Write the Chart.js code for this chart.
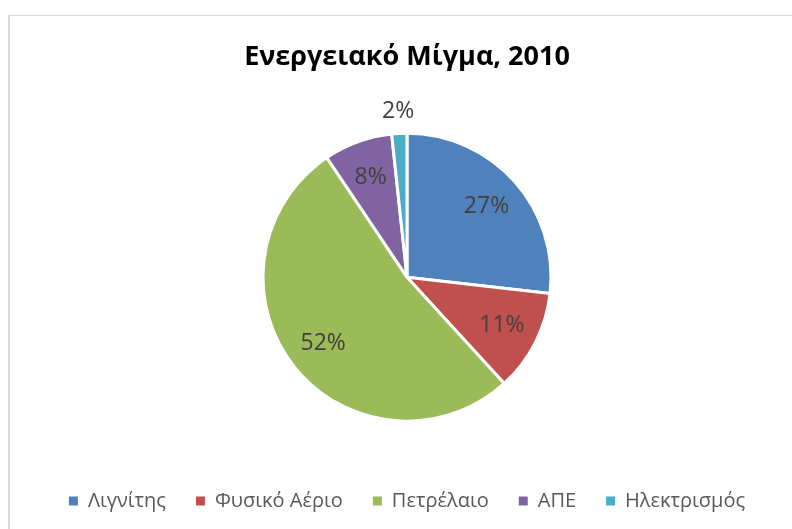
<!DOCTYPE html>
<html>
<head>
<meta charset="utf-8">
<script src="https://cdn.jsdelivr.net/npm/chart.js@4/dist/chart.umd.min.js"></script>
<style>
html,body{margin:0;padding:0;background:#fff;}
#frame{position:absolute;left:8px;top:15px;width:800px;height:530px;border-left:2px solid #d9d9d9;border-top:1px solid #d9d9d9;}
#wrap{position:absolute;left:0;top:0;width:792px;height:529px;}
</style>
</head>
<body>
<div id="frame"></div>
<div id="wrap"><canvas id="c" width="792" height="529"></canvas></div>
<script>
const titleText = 'Ενεργειακό Μίγμα, 2010';
const categories = ['Λιγνίτης', 'Φυσικό Αέριο', 'Πετρέλαιο', 'ΑΠΕ', 'Ηλεκτρισμός'];
const shares = [26.8, 11.4, 52.4, 7.7, 1.7];
const sliceColors = ['#4F81BD', '#C0504D', '#9BBB59', '#8064A2', '#4BACC6'];

const pctLabels = {
  id: 'pctLabels',
  afterDatasetsDraw(chart) {
    const ctx = chart.ctx;
    const meta = chart.getDatasetMeta(0);
    const data = chart.data.datasets[0].data;
    const total = data.reduce((a, b) => a + b, 0);
    ctx.save();
    ctx.font = '23px "Open Sans"';
    ctx.fillStyle = '#404040';
    ctx.textAlign = 'center';
    ctx.textBaseline = 'middle';
    meta.data.forEach((arc, i) => {
      const p = arc.getProps(['x', 'y', 'startAngle', 'endAngle', 'outerRadius'], true);
      const mid = (p.startAngle + p.endAngle) / 2;
      const pct = data[i] / total * 100;
      const r = pct < 3 ? p.outerRadius + 22 : p.outerRadius * 0.74;
      ctx.fillText(Math.round(pct) + '%', p.x + Math.cos(mid) * r, p.y + Math.sin(mid) * r);
    });
    ctx.restore();
  }
};

const defaultGen = Chart.overrides.pie.plugins.legend.labels.generateLabels;

new Chart(document.getElementById('c'), {
  type: 'pie',
  data: {
    labels: categories,
    datasets: [{
      data: shares,
      backgroundColor: sliceColors,
      borderColor: '#ffffff',
      borderWidth: 3
    }]
  },
  options: {
    responsive: false,
    animation: false,
    radius: 144,
    layout: { padding: { left: 22, right: 0, top: 0, bottom: 8 } },
    plugins: {
      title: {
        display: true,
        text: titleText,
        color: '#000000',
        font: { family: '"Open Sans"', size: 27, weight: 'bold' },
        padding: { top: 41, bottom: 20 }
      },
      legend: {
        position: 'bottom',
        labels: {
          color: '#595959',
          font: { family: '"Open Sans"', size: 20 },
          boxWidth: 9,
          boxHeight: 9,
          padding: 30,
          generateLabels(chart) {
            return defaultGen(chart).map(it => Object.assign(it, { lineWidth: 0, strokeStyle: it.fillStyle }));
          }
        }
      },
      tooltip: { enabled: false }
    }
  },
  plugins: [pctLabels]
});
</script>
</body>
</html>
